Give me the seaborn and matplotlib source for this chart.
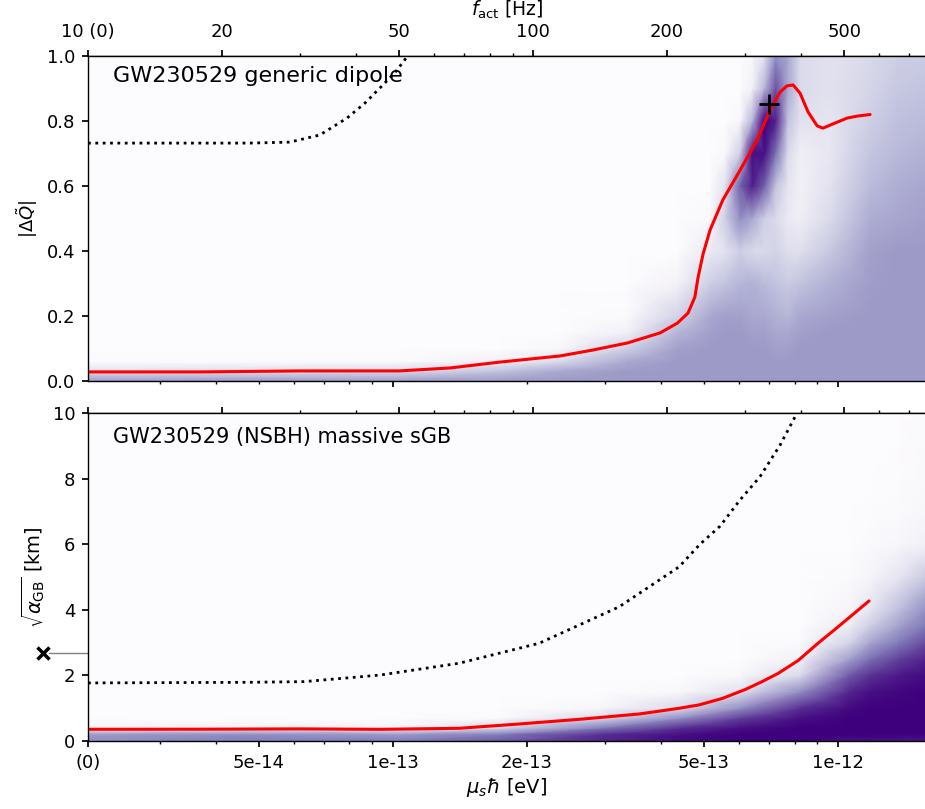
import numpy as np
import matplotlib
matplotlib.use('Agg')
import matplotlib.pyplot as plt
import matplotlib.transforms as mtransforms
from matplotlib.ticker import NullFormatter
import seaborn as sns

HBAR = 6.582119569e-16  # eV s


def mass_to_f(mu):
    # activation frequency of the dipole for a scalar of mass mu
    return np.asarray(mu) / (np.pi * HBAR)


# ---- axis ticks ----
f_major = [10, 20, 50, 100, 200, 500]
f_major_labels = ['10 (0)', '20', '50', '100', '200', '500']
f_minor = [30, 40, 60, 70, 80, 90, 300, 400, 600, 700]

mu_major = [5e-14, 1e-13, 2e-13, 5e-13, 1e-12]
mu_major_labels = ['5e-14', '1e-13', '2e-13', '5e-13', '1e-12']
mu_minor = [3e-14, 4e-14, 6e-14, 7e-14, 8e-14, 9e-14,
            3e-13, 4e-13, 6e-13, 7e-13, 8e-13, 9e-13]
mu_log_major = [1e-13, 1e-12]
mu_log_minor = [3e-14, 4e-14, 5e-14, 6e-14, 7e-14, 8e-14, 9e-14,
                2e-13, 3e-13, 4e-13, 5e-13, 6e-13, 7e-13, 8e-13, 9e-13]
f_max = 760

# ---- top panel: generic dipole ----
dq_bound_f = [10, 18, 30, 50, 65, 84, 115, 136, 163, 193, 211, 223, 231, 235, 241,
              250, 267, 292, 319, 341, 359, 372, 384, 398, 415, 435, 448, 472,
              508, 535, 572]
dq_bound = [0.028, 0.028, 0.031, 0.031, 0.04, 0.058, 0.077, 0.095, 0.117, 0.148,
            0.178, 0.209, 0.258, 0.32, 0.39, 0.465, 0.557, 0.649, 0.742, 0.834,
            0.889, 0.908, 0.911, 0.886, 0.828, 0.785, 0.778, 0.791, 0.809, 0.815,
            0.82]
dq_theory_f = [10, 23.1, 28.4, 33.2, 38.2, 41.9, 46.0, 49.0, 51.3, 52.9]
dq_theory = [0.732, 0.732, 0.735, 0.757, 0.809, 0.855, 0.911, 0.95, 0.985, 1.01]
dq_cross_f = [339]
dq_cross = [0.852]

# posterior density (colour level) per column, read on a row grid
dq_rows = [0, 0.03, 0.06, 0.1, 0.15, 0.2, 0.3, 0.4, 0.5, 0.6, 0.7, 0.8, 0.9, 1.0]
dq_cols_f = [10, 50, 84, 115, 163, 211, 250, 270, 292, 311, 331, 351, 374, 398,
             465, 572, 660, 775]
dq_density = [
    [0.5, 0.2, 0.0, 0, 0, 0, 0, 0, 0, 0, 0, 0, 0, 0],
    [0.5, 0.25, 0.02, 0, 0, 0, 0, 0, 0, 0, 0, 0, 0, 0],
    [0.5, 0.35, 0.1, 0, 0, 0, 0, 0, 0, 0, 0, 0, 0, 0],
    [0.5, 0.45, 0.25, 0.05, 0, 0, 0, 0, 0, 0, 0, 0, 0, 0],
    [0.5, 0.5, 0.45, 0.3, 0.1, 0.02, 0, 0, 0, 0, 0, 0, 0, 0],
    [0.5, 0.5, 0.5, 0.48, 0.4, 0.28, 0.08, 0, 0, 0, 0, 0, 0, 0],
    [0.5, 0.5, 0.5, 0.5, 0.48, 0.45, 0.3, 0.15, 0.03, 0, 0, 0, 0, 0],
    [0.5, 0.5, 0.5, 0.5, 0.5, 0.48, 0.35, 0.2, 0.3, 0.2, 0.03, 0, 0, 0],
    [0.5, 0.5, 0.5, 0.5, 0.5, 0.48, 0.4, 0.3, 0.55, 0.7, 0.3, 0.05, 0, 0],
    [0.5, 0.5, 0.5, 0.5, 0.48, 0.45, 0.42, 0.25, 0.45, 0.9, 0.95, 0.4, 0.1, 0.05],
    [0.5, 0.5, 0.5, 0.5, 0.48, 0.45, 0.38, 0.25, 0.3, 0.7, 0.95, 1.0, 0.4, 0.2],
    [0.5, 0.5, 0.5, 0.48, 0.45, 0.42, 0.35, 0.28, 0.25, 0.35, 0.65, 0.9, 0.75, 0.55],
    [0.5, 0.5, 0.5, 0.48, 0.45, 0.4, 0.32, 0.22, 0.15, 0.18, 0.25, 0.35, 0.45, 0.45],
    [0.5, 0.5, 0.5, 0.5, 0.48, 0.45, 0.35, 0.22, 0.12, 0.1, 0.12, 0.2, 0.25, 0.25],
    [0.5, 0.5, 0.5, 0.5, 0.5, 0.48, 0.42, 0.33, 0.25, 0.2, 0.17, 0.18, 0.2, 0.2],
    [0.5, 0.5, 0.5, 0.5, 0.5, 0.5, 0.49, 0.48, 0.43, 0.38, 0.34, 0.3, 0.27, 0.25],
    [0.5, 0.5, 0.5, 0.5, 0.5, 0.5, 0.5, 0.5, 0.46, 0.43, 0.39, 0.36, 0.33, 0.3],
    [0.5, 0.5, 0.5, 0.5, 0.5, 0.5, 0.5, 0.5, 0.48, 0.46, 0.42, 0.38, 0.35, 0.32],
]

# ---- bottom panel: massive sGB ----
gb_bound_f = [10, 17.9, 30.0, 45.3, 68.2, 93.0, 126.9, 173.1, 212.9, 236.1, 266.6,
              301.1, 327.1, 355.3, 393.9, 436.9, 484.6, 537.5, 569.0]
gb_bound = [0.357, 0.36, 0.37, 0.356, 0.387, 0.518, 0.66, 0.823, 0.997, 1.10, 1.30,
            1.58, 1.81, 2.06, 2.45, 2.98, 3.48, 3.99, 4.27]
gb_theory_f = [10, 23.1, 30.6, 45.3, 68.2, 103.2, 156.1, 212.9, 237.3, 263.2,
               291.9, 323.7, 359.0, 392.0, 405.0]
gb_theory = [1.77, 1.79, 1.81, 2.01, 2.37, 2.98, 4.09, 5.31, 6.0, 6.55, 7.35,
             8.06, 9.02, 10.0, 10.4]
gb_marker = 2.68

gb_rows = [0, 0.2, 0.4, 0.7, 1.0, 1.5, 2.0, 2.5, 3.0, 3.5, 4.0, 5.0, 6.0, 7.0, 8.0, 10.0]
gb_cols_f = [10, 23, 50, 84, 142, 214, 292, 398, 514, 572, 665, 775]
gb_density = [
    [0.55, 0.5, 0.05, 0, 0, 0, 0, 0, 0, 0, 0, 0, 0, 0, 0, 0],
    [0.62, 0.55, 0.08, 0, 0, 0, 0, 0, 0, 0, 0, 0, 0, 0, 0, 0],
    [0.62, 0.5, 0.06, 0, 0, 0, 0, 0, 0, 0, 0, 0, 0, 0, 0, 0],
    [0.72, 0.62, 0.25, 0.02, 0, 0, 0, 0, 0, 0, 0, 0, 0, 0, 0, 0],
    [0.88, 0.85, 0.62, 0.25, 0.05, 0, 0, 0, 0, 0, 0, 0, 0, 0, 0, 0],
    [0.97, 0.95, 0.85, 0.55, 0.25, 0.04, 0, 0, 0, 0, 0, 0, 0, 0, 0, 0],
    [1.0, 1.0, 0.95, 0.8, 0.55, 0.2, 0.04, 0, 0, 0, 0, 0, 0, 0, 0, 0],
    [1.0, 1.0, 1.0, 0.95, 0.85, 0.55, 0.25, 0.08, 0.02, 0, 0, 0, 0, 0, 0, 0],
    [0.95, 1.0, 1.0, 1.0, 0.97, 0.88, 0.72, 0.48, 0.27, 0.13, 0.06, 0.02, 0, 0, 0, 0],
    [0.95, 1.0, 1.0, 1.0, 1.0, 0.95, 0.84, 0.66, 0.46, 0.3, 0.18, 0.06, 0.02, 0.01, 0, 0],
    [0.93, 1.0, 1.0, 1.0, 1.0, 0.98, 0.92, 0.8, 0.63, 0.48, 0.37, 0.18, 0.05, 0.02, 0.01, 0],
    [0.92, 1.0, 1.0, 1.0, 1.0, 1.0, 0.97, 0.9, 0.78, 0.65, 0.56, 0.33, 0.1, 0.05, 0.03, 0.02],
]

sns.set_theme(style='ticks', rc={
    'axes.edgecolor': 'black', 'xtick.color': 'black', 'ytick.color': 'black',
    'text.color': 'black', 'axes.labelcolor': 'black',
    'xtick.major.size': 4.5, 'ytick.major.size': 4.5,
    'xtick.minor.size': 2.5, 'xtick.major.pad': 4.5, 'ytick.major.pad': 4.5,
    'axes.linewidth': 1.0,
})
plt.rcParams['font.family'] = ['DejaVu Sans']
plt.rcParams['mathtext.fontset'] = 'dejavusans'

fig = plt.figure(figsize=(9.25, 8.09), dpi=100)
left, width = 88 / 925, 837 / 925
ax1 = fig.add_axes([left, 1 - 381 / 809, width, 325 / 809])
ax2 = fig.add_axes([left, 1 - 741 / 809, width, 328 / 809])


def draw_density(ax, cols_f, rows, dens):
    X, Y = np.meshgrid(cols_f, rows)
    C = np.array(dens).T
    ax.pcolormesh(X, Y, C, shading='gouraud', cmap='Purples', vmin=0, vmax=1,
                  rasterized=True)


def setup_x(ax, labelled_bottom):
    ax.set_xscale('log')
    ax.set_xlim(10, f_max)
    sec = ax.secondary_xaxis('top')
    sec.set_xticks(f_major)
    sec.set_xticks(f_minor, minor=True)
    sec.xaxis.set_minor_formatter(NullFormatter())
    sec.tick_params(which='major', length=4.5, labelsize=13, pad=6.5)
    sec.tick_params(which='minor', length=2.5)
    if labelled_bottom:
        ax.set_xticks([10.0] + list(mass_to_f(mu_major)), ['(0)'] + mu_major_labels)
        ax.set_xticks(mass_to_f(mu_minor), minor=True)
        sec.set_xticklabels([])
    else:
        ax.set_xticks(mass_to_f(mu_log_major))
        ax.set_xticks(mass_to_f(mu_log_minor), minor=True)
        ax.xaxis.set_major_formatter(NullFormatter())
        sec.set_xticklabels(f_major_labels)
        sec.set_xlabel(r'$f_{\rm act}$ [Hz]', fontsize=13.5, labelpad=5)
    ax.xaxis.set_minor_formatter(NullFormatter())
    ax.tick_params(axis='both', which='major', labelsize=13)
    ax.spines['right'].set_visible(False)
    return sec


# top panel
draw_density(ax1, dq_cols_f, dq_rows, dq_density)
sns.lineplot(x=dq_theory_f, y=dq_theory, ax=ax1, color='black', linestyle=':',
             linewidth=2, sort=False, estimator=None)
sns.lineplot(x=dq_bound_f, y=dq_bound, ax=ax1, color='red', linewidth=2.2,
             sort=False, estimator=None)
ax1.plot(dq_cross_f, dq_cross, marker='+', ms=15, mew=2, color='black', ls='none')
ax1.set_ylim(0, 1.0)
ax1.set_yticks([0.0, 0.2, 0.4, 0.6, 0.8, 1.0])
ax1.set_ylabel(r'$|\Delta\tilde{Q}|$', fontsize=13, labelpad=5)
setup_x(ax1, labelled_bottom=False)
ax1.text(0.03, 0.94, 'GW230529 generic dipole', transform=ax1.transAxes,
         fontsize=16, va='center', ha='left')

# bottom panel
draw_density(ax2, gb_cols_f, gb_rows, gb_density)
sns.lineplot(x=gb_theory_f, y=gb_theory, ax=ax2, color='black', linestyle=':',
             linewidth=2, sort=False, estimator=None)
sns.lineplot(x=gb_bound_f, y=gb_bound, ax=ax2, color='red', linewidth=2.2,
             sort=False, estimator=None)
ax2.set_ylim(0, 10)
ax2.set_yticks([0, 2, 4, 6, 8, 10])
ax2.set_ylabel(r'$\sqrt{\alpha_{\rm GB}}$ [km]', fontsize=14, labelpad=4)
ax2.set_xlabel(r'$\mu_s\hbar$ [eV]', fontsize=14, labelpad=3)
setup_x(ax2, labelled_bottom=True)
ax2.text(0.03, 0.927, 'GW230529 (NSBH) massive sGB', transform=ax2.transAxes,
         fontsize=15, va='center', ha='left')

trans = mtransforms.blended_transform_factory(ax2.transAxes, ax2.transData)
ax2.plot([-0.046, 0.0], [gb_marker, gb_marker], color='grey', lw=1,
         transform=trans, clip_on=False)
ax2.plot([-0.054], [gb_marker], marker='x', ms=9, mew=2.5, color='black',
         transform=trans, clip_on=False, ls='none')

fig.savefig('out.png', dpi=100)
